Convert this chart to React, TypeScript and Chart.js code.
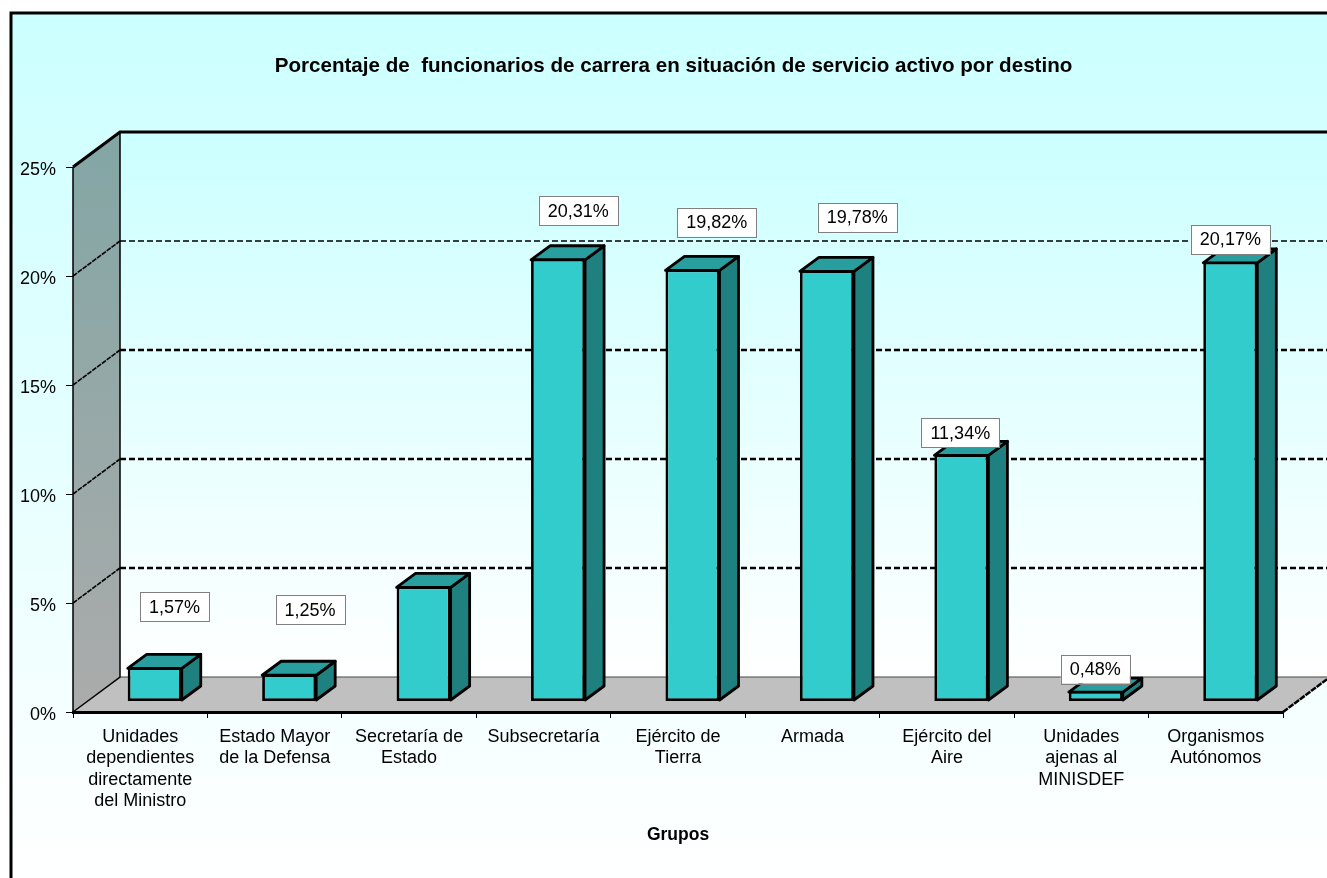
import React, { useEffect, useRef } from "react";
import { Chart, registerables } from "chart.js";

Chart.register(...registerables);

const titleText = "Porcentaje de  funcionarios de carrera en situación de servicio activo por destino";
const axisTitle = "Grupos";
const categories = [
  ["Unidades", "dependientes", "directamente", "del Ministro"],
  ["Estado Mayor", "de la Defensa"],
  ["Secretaría de", "Estado"],
  ["Subsecretaría"],
  ["Ejército de", "Tierra"],
  ["Armada"],
  ["Ejército del", "Aire"],
  ["Unidades", "ajenas al", "MINISDEF"],
  ["Organismos", "Autónomos"],
];
const values = [1.57, 1.25, 5.28, 20.31, 19.82, 19.78, 11.34, 0.48, 20.17];
const hasLabel = [true, true, false, true, true, true, true, true, true];
const labelDx = [34.3, 35.4, 0, 34.6, 38.7, 44.8, 13.4, 14, 14.6];
const labelDy = [-70.8, -74.8, 0, -58.7, -57.9, -63.3, -31.8, -32.5, -32.8];

const FONT = '"Liberation Sans", Arial, sans-serif';
const W = 1327;
const H = 878;
const WALL_DX = 47;
const WALL_DY = 35;
const BAR_SHIFT_X = 14.5;
const BAR_SHIFT_Y = -10.5;
const BAR_DX = 19;
const BAR_DY = 14;

const scene3d = {
  id: "scene3d",
  beforeDraw(chart: any) {
    const { ctx } = chart;
    const x = chart.scales.x;
    const y = chart.scales.y;
    const L = x.left;
    const R = x.right;
    const T = y.getPixelForValue(25);
    const B = y.getPixelForValue(0);
    // centre the title where the reference has it
    chart.titleBlock.left = 64;
    chart.titleBlock.right = R;
    ctx.save();
    const bg = ctx.createLinearGradient(0, 13, 0, H);
    bg.addColorStop(0, "#CCFFFF");
    bg.addColorStop(1, "#FFFFFF");
    ctx.fillStyle = "#FFFFFF";
    ctx.fillRect(0, 0, W, H);
    ctx.fillStyle = bg;
    ctx.fillRect(11, 13, W, H);
    ctx.strokeStyle = "#000";
    ctx.lineWidth = 3;
    ctx.strokeRect(11, 13, W + 20, H + 20);

    // back wall
    const wall = ctx.createLinearGradient(0, T - WALL_DY, 0, B - WALL_DY);
    wall.addColorStop(0, "#CCFFFF");
    wall.addColorStop(1, "#FFFFFF");
    ctx.fillStyle = wall;
    ctx.fillRect(L + WALL_DX, T - WALL_DY, W, B - T);

    // side wall
    const side = ctx.createLinearGradient(0, T - WALL_DY, 0, B);
    side.addColorStop(0, "#82A6A4");
    side.addColorStop(1, "#ABABAB");
    ctx.fillStyle = side;
    ctx.beginPath();
    ctx.moveTo(L, T);
    ctx.lineTo(L + WALL_DX, T - WALL_DY);
    ctx.lineTo(L + WALL_DX, B - WALL_DY);
    ctx.lineTo(L, B);
    ctx.closePath();
    ctx.fill();

    // floor
    ctx.fillStyle = "#C0C0C0";
    ctx.beginPath();
    ctx.moveTo(L, B);
    ctx.lineTo(L + WALL_DX, B - WALL_DY);
    ctx.lineTo(R + WALL_DX, B - WALL_DY);
    ctx.lineTo(R, B);
    ctx.closePath();
    ctx.fill();

    // grid lines on wall
    ctx.strokeStyle = "#000";
    y.ticks.forEach((t: any) => {
      if (t.value === 0 || t.value === 25) return;
      const py = y.getPixelForValue(t.value);
      ctx.lineWidth = t.value === 20 ? 1.6 : 2.5;
      ctx.setLineDash([6, 3]);
      ctx.beginPath();
      ctx.moveTo(L + WALL_DX, py - WALL_DY);
      ctx.lineTo(W + 5, py - WALL_DY);
      ctx.stroke();
      ctx.lineWidth = 1.6;
      ctx.setLineDash([5, 1]);
      ctx.beginPath();
      ctx.moveTo(L, py);
      ctx.lineTo(L + WALL_DX, py - WALL_DY);
      ctx.stroke();
    });
    ctx.setLineDash([]);

    // floor back edge
    ctx.strokeStyle = "#444";
    ctx.lineWidth = 1;
    ctx.beginPath();
    ctx.moveTo(L + WALL_DX, B - WALL_DY);
    ctx.lineTo(R + WALL_DX, B - WALL_DY);
    ctx.stroke();

    // frame lines
    ctx.strokeStyle = "#000";
    ctx.lineWidth = 1.5;
    ctx.beginPath();
    ctx.moveTo(L, T);
    ctx.lineTo(L, B);
    ctx.moveTo(L + WALL_DX, T - WALL_DY);
    ctx.lineTo(L + WALL_DX, B - WALL_DY);
    ctx.lineTo(L, B);
    ctx.stroke();
    ctx.lineWidth = 3;
    ctx.beginPath();
    ctx.moveTo(L, T);
    ctx.lineTo(L + WALL_DX, T - WALL_DY);
    ctx.lineTo(W + 5, T - WALL_DY);
    ctx.stroke();
    ctx.lineWidth = 2.5;
    ctx.setLineDash([6, 1]);
    ctx.beginPath();
    ctx.moveTo(R, B);
    ctx.lineTo(R + WALL_DX, B - WALL_DY);
    ctx.stroke();
    ctx.restore();
  },
  beforeDatasetDraw(chart: any, args: any) {
    const { ctx } = chart;
    const meta = chart.getDatasetMeta(args.index);
    ctx.save();
    ctx.translate(BAR_SHIFT_X, BAR_SHIFT_Y);
    ctx.lineJoin = "round";
    ctx.lineWidth = 2.8;
    ctx.strokeStyle = "#000";
    meta.data.forEach((el: any) => {
      const p = el.getProps(["x", "y", "base", "width"], true);
      const l = p.x - p.width / 2;
      const r = p.x + p.width / 2;
      const t = p.y + 1;
      const b = p.base - 1;
      ctx.fillStyle = "#1F8080";
      ctx.beginPath();
      ctx.moveTo(r, t);
      ctx.lineTo(r + BAR_DX, t - BAR_DY);
      ctx.lineTo(r + BAR_DX, b - BAR_DY);
      ctx.lineTo(r, b);
      ctx.closePath();
      ctx.fill();
      ctx.stroke();
      ctx.fillStyle = "#299E9E";
      ctx.beginPath();
      ctx.moveTo(l, t);
      ctx.lineTo(l + BAR_DX, t - BAR_DY);
      ctx.lineTo(r + BAR_DX, t - BAR_DY);
      ctx.lineTo(r, t);
      ctx.closePath();
      ctx.fill();
      ctx.stroke();
    });
  },
  afterDatasetDraw(chart: any) {
    chart.ctx.restore();
  },
  afterDatasetsDraw(chart: any) {
    const { ctx } = chart;
    const meta = chart.getDatasetMeta(0);
    ctx.save();
    ctx.font = `18px ${FONT}`;
    ctx.textAlign = "center";
    ctx.textBaseline = "middle";
    meta.data.forEach((el: any, i: number) => {
      if (!hasLabel[i]) return;
      const text = values[i].toFixed(2).replace(".", ",") + "%";
      const p = el.getProps(["x", "y"], true);
      const cx = p.x + labelDx[i];
      const cy = p.y + labelDy[i];
      const w = ctx.measureText(text).width + 18;
      const h = 29;
      ctx.fillStyle = "#FFFFFF";
      ctx.fillRect(cx - w / 2, cy - h / 2, w, h);
      ctx.strokeStyle = "#808080";
      ctx.lineWidth = 1;
      ctx.strokeRect(Math.round(cx - w / 2) + 0.5, Math.round(cy - h / 2) + 0.5, Math.round(w), h);
      ctx.fillStyle = "#000";
      ctx.fillText(text, cx, cy + 1);
    });
    ctx.restore();
  },
};

export default function App() {
  const ref = useRef<HTMLCanvasElement | null>(null);
  useEffect(() => {
    const chart = new Chart(ref.current as HTMLCanvasElement, {
      type: "bar",
      data: {
        labels: categories as any,
        datasets: [
          {
            data: values,
            backgroundColor: "#33CCCC",
            borderColor: "#000000",
            borderWidth: 2.8,
            borderSkipped: false,
            barPercentage: 0.402,
            categoryPercentage: 1,
            clip: false as any,
          },
        ],
      },
      options: {
        animation: false,
        responsive: false,
        devicePixelRatio: 1,
        layout: { autoPadding: false, padding: { left: 0, right: 44, top: 0, bottom: 0 } },
        plugins: {
          legend: { display: false },
          tooltip: { enabled: false },
          title: {
            display: true,
            text: titleText,
            color: "#000",
            font: { family: FONT, size: 20.6, weight: "bold", lineHeight: 1.2 },
            padding: { top: 54, bottom: 88.3 },
          },
        },
        scales: {
          x: {
            afterFit(scale: any) {
              scale.height = H - 712;
            },
            border: { color: "#000", width: 3 },
            grid: { drawOnChartArea: false, tickLength: 6, tickColor: "#000", tickWidth: 1 },
            ticks: {
              autoSkip: false,
              maxRotation: 0,
              minRotation: 0,
              padding: 8,
              color: "#000",
              font: { family: FONT, size: 18, lineHeight: 1.19 },
            },
            title: {
              display: true,
              text: axisTitle,
              color: "#000",
              font: { family: FONT, size: 17.5, weight: "bold", lineHeight: 1.2 },
              padding: { top: 0, bottom: 32 },
            },
          },
          y: {
            min: 0,
            max: 25,
            afterFit(scale: any) {
              scale.width = 73;
            },
            border: { display: false },
            grid: { drawOnChartArea: false, tickLength: 7, tickColor: "#000", tickWidth: 1 },
            ticks: {
              stepSize: 5,
              padding: 10,
              labelOffset: 3.5,
              color: "#000",
              font: { family: FONT, size: 18 },
              callback: (v: any) => `${v}%`,
            },
          },
        },
      },
      plugins: [scene3d],
    } as any);
    return () => chart.destroy();
  }, []);
  return (
    <canvas
      ref={ref}
      width={W}
      height={H}
      style={{ position: "absolute", left: 0, top: 0, width: W, height: H, display: "block" }}
    />
  );
}
